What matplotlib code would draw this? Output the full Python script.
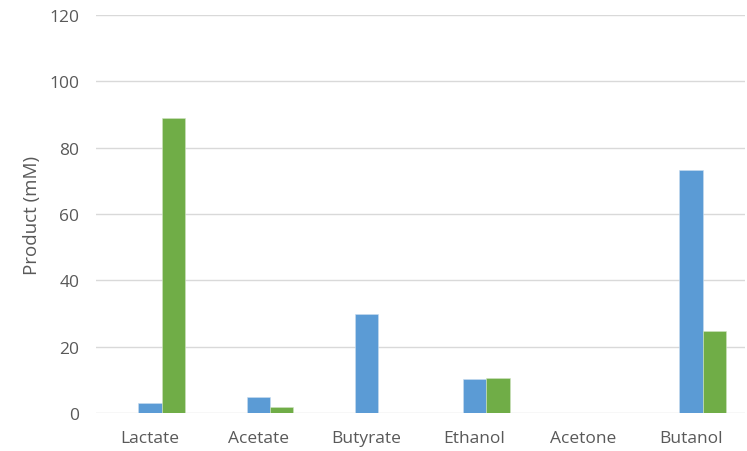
import numpy as np
import matplotlib
matplotlib.use("Agg")
import matplotlib.pyplot as plt

plt.rcParams['font.family'] = ['Open Sans', 'DejaVu Sans']

categories = ["Lactate", "Acetate", "Butyrate", "Ethanol", "Acetone", "Butanol"]
series_blue = [3.0, 4.9, 30.0, 10.3, 0.0, 73.2]
series_green = [88.8, 2.0, 0.0, 10.6, 0.0, 24.8]
y_ticks = [0, 20, 40, 60, 80, 100, 120]

fig = plt.figure(figsize=(7.47, 4.52), dpi=100)
ax = fig.add_axes([0.1285, 0.0834, 0.8688, 0.8819])

x = np.arange(len(categories))
w = 0.217
ax.bar(x, series_blue, width=w, color="#5B9BD5", edgecolor="#C9DDF0", linewidth=0.4, zorder=3)
ax.bar(x + w, series_green, width=w, color="#70AD47", edgecolor="#CFE3C2", linewidth=0.4, zorder=3)

ax.set_xlim(-0.5, len(categories) - 0.5)
ax.set_ylim(0, 120)
ax.set_yticks(y_ticks)
ax.set_xticks(x)
ax.set_xticklabels(categories)
ax.yaxis.grid(True, color="#D9D9D9", linewidth=1.0, zorder=0)
ax.set_axisbelow(True)
for s in ax.spines.values():
    s.set_visible(False)
ax.tick_params(axis='both', length=0, colors="#595959", labelsize=12.5)
ax.tick_params(axis='y', pad=12)
ax.tick_params(axis='x', pad=12)
ax.set_ylabel("Product (mM)", fontsize=13.5, color="#595959", labelpad=6)

fig.savefig("out.png", dpi=100, facecolor="white")
